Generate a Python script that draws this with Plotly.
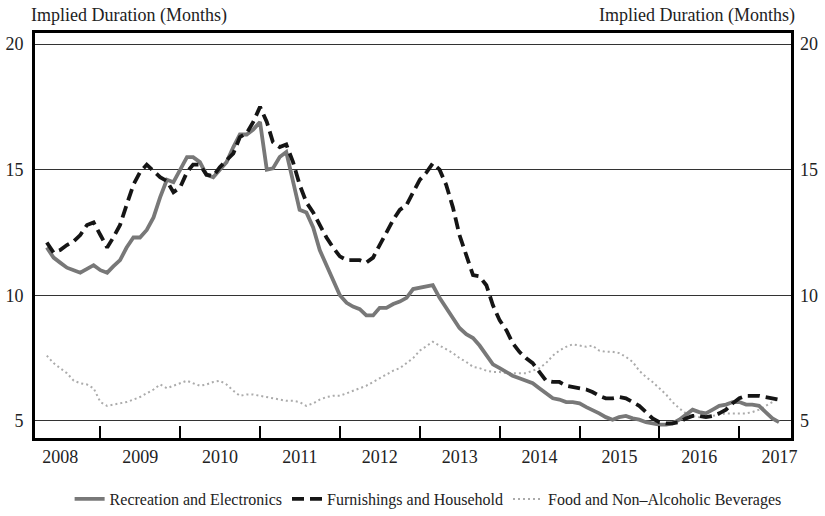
import pandas as pd
import plotly.graph_objects as go

# monthly observations, May 2008 - Jul 2017
months = pd.date_range("2008-05-01", periods=111, freq="MS")

recreation = [
    11.9, 11.5, 11.3, 11.1, 11.0, 10.9, 11.05, 11.2,
    11.0, 10.9, 11.15, 11.4, 11.9, 12.3, 12.3, 12.6, 13.1, 13.9, 14.6, 14.5,
    15.0, 15.5, 15.5, 15.3, 14.8, 14.7, 15.0, 15.3, 15.9, 16.4, 16.4, 16.6,
    16.9, 15.0, 15.05, 15.5, 15.7, 14.6, 13.4, 13.3, 12.7, 11.8, 11.2, 10.6,
    10.0, 9.7, 9.55, 9.45, 9.2, 9.2, 9.5, 9.5, 9.65, 9.75, 9.9, 10.25,
    10.3, 10.35, 10.4, 9.9, 9.5, 9.15, 8.7, 8.45, 8.3, 8.0, 7.6, 7.25,
    7.1, 6.95, 6.8, 6.7, 6.6, 6.5, 6.3, 6.1, 5.9, 5.85, 5.75, 5.75,
    5.7, 5.55, 5.45, 5.3, 5.15, 5.05, 5.15, 5.2, 5.1, 5.05, 4.95, 4.9,
    4.85, 4.85, 4.9, 5.05, 5.25, 5.45, 5.35, 5.3, 5.45, 5.6, 5.65, 5.75,
    5.75, 5.65, 5.65, 5.6, 5.35, 5.1, 4.95,
]

furnishings = [
    12.1, 11.7, 11.8, 12.0, 12.15, 12.4, 12.8, 12.9,
    12.4, 11.9, 12.3, 12.8, 13.6, 14.4, 14.9, 15.2, 14.95, 14.7, 14.55, 14.1,
    14.3, 14.9, 15.2, 15.2, 14.8, 14.75, 15.1, 15.35, 15.65, 16.3, 16.45, 16.9,
    17.5, 16.9, 16.1, 15.9, 16.0, 15.3, 14.4, 13.7, 13.3, 12.8, 12.3, 11.9,
    11.55, 11.4, 11.4, 11.4, 11.3, 11.5, 12.0, 12.5, 13.0, 13.4, 13.6, 14.1,
    14.6, 14.9, 15.25, 15.0, 14.4, 13.5, 12.4, 11.6, 10.8, 10.75, 10.4, 9.6,
    9.0, 8.6, 8.1, 7.75, 7.5, 7.3, 6.95, 6.6, 6.55, 6.55, 6.4, 6.35,
    6.3, 6.25, 6.15, 6.0, 5.9, 5.9, 5.95, 5.9, 5.75, 5.6, 5.35, 5.1,
    4.95, 4.9, 4.9, 4.95, 5.1, 5.2, 5.2, 5.15, 5.2, 5.3, 5.45, 5.7,
    5.9, 6.0, 6.0, 6.0, 5.95, 5.9, 5.85,
]

food = [
    7.6, 7.3, 7.1, 6.9, 6.6, 6.5, 6.45, 6.3,
    5.75, 5.6, 5.65, 5.7, 5.75, 5.85, 5.95, 6.1, 6.25, 6.45, 6.3, 6.4,
    6.5, 6.6, 6.5, 6.4, 6.45, 6.55, 6.6, 6.45, 6.2, 6.0, 6.05, 6.05,
    6.0, 5.95, 5.9, 5.85, 5.8, 5.8, 5.75, 5.6, 5.7, 5.85, 5.95, 6.0,
    6.0, 6.1, 6.2, 6.3, 6.4, 6.55, 6.7, 6.85, 7.0, 7.1, 7.3, 7.5,
    7.8, 8.0, 8.15, 8.0, 7.85, 7.7, 7.5, 7.35, 7.15, 7.1, 7.0, 6.95,
    6.95, 6.9, 6.9, 6.9, 6.9, 7.0, 7.1, 7.3, 7.6, 7.8, 7.95, 8.05,
    8.0, 7.95, 8.0, 7.8, 7.75, 7.75, 7.7, 7.55, 7.35, 7.0, 6.75, 6.55,
    6.3, 6.05, 5.75, 5.5, 5.3, 5.2, 5.15, 5.15, 5.2, 5.25, 5.3, 5.3,
    5.3, 5.3, 5.35, 5.45, 5.6, 5.75, 5.9,
]

y_ticks = [5, 10, 15, 20]
y_title = "Implied Duration (Months)"

serif = "Liberation Serif"

fig = go.Figure()
fig.add_trace(go.Scatter(
    x=months, y=food, mode="lines", name="Food and Non\u2013Alcoholic Beverages",
    line=dict(color="#ababab", width=2, dash="2px,3px"), legendrank=3,
))
fig.add_trace(go.Scatter(
    x=months, y=recreation, mode="lines", name="Recreation and Electronics",
    line=dict(color="#787878", width=3.8), legendrank=1,
))
fig.add_trace(go.Scatter(
    x=months, y=furnishings, mode="lines", name="Furnishings and Household",
    line=dict(color="#151515", width=3.8, dash="12px,6px"), legendrank=2,
))
# invisible trace so the right-hand axis gets drawn
fig.add_trace(go.Scatter(
    x=months, y=food, yaxis="y2", mode="lines", showlegend=False,
    hoverinfo="skip", line=dict(width=0), opacity=0,
))

fig.update_layout(
    width=825, height=516,
    margin=dict(l=35, r=34, t=33, b=78, autoexpand=False),
    plot_bgcolor="white", paper_bgcolor="white",
    font=dict(family=serif, size=18, color="#222"),
    showlegend=True,
    legend=dict(
        orientation="h", x=0.52, xanchor="center",
        yref="container", y=0.0, yanchor="bottom",
        font=dict(family=serif, size=16),
    ),
    xaxis=dict(
        type="date", range=["2008-03-08", "2017-08-25"],
        tick0="2008-01-01", dtick="M12", tickformat="%Y",
        ticklabelmode="period", ticks="inside", ticklen=12, tickwidth=1.5,
        tickcolor="black", showgrid=False, zeroline=False, automargin=False,
        showline=True, linewidth=3, linecolor="black", mirror=True,
        tickfont=dict(family=serif, size=18), ticklabelstandoff=0,
    ),
    yaxis=dict(
        range=[4.32, 20.44], tickvals=y_ticks, showgrid=True,
        gridcolor="#333", gridwidth=1.2, zeroline=False, ticks="",
        showline=True, linewidth=3, linecolor="black", mirror=True,
        automargin=False,
        tickfont=dict(family=serif, size=18), ticklabelstandoff=5,
    ),
    yaxis2=dict(
        overlaying="y", side="right", matches="y", tickvals=y_ticks,
        showgrid=False, zeroline=False, ticks="", automargin=False,
        tickfont=dict(family=serif, size=18), ticklabelstandoff=8,
    ),
    annotations=[
        dict(text=y_title, xref="paper", yref="paper", x=0, y=1,
             xanchor="left", yanchor="bottom", yshift=5, xshift=-6,
             showarrow=False, font=dict(family=serif, size=18)),
        dict(text=y_title, xref="paper", yref="paper", x=1, y=1,
             xanchor="right", yanchor="bottom", yshift=5, xshift=6,
             showarrow=False, font=dict(family=serif, size=18)),
    ],
)

# drop the default page margin so the figure fills the window
fig.write_html(
    "out.html",
    config={"displayModeBar": False},
    post_script="document.body.style.margin = '0';",
)
